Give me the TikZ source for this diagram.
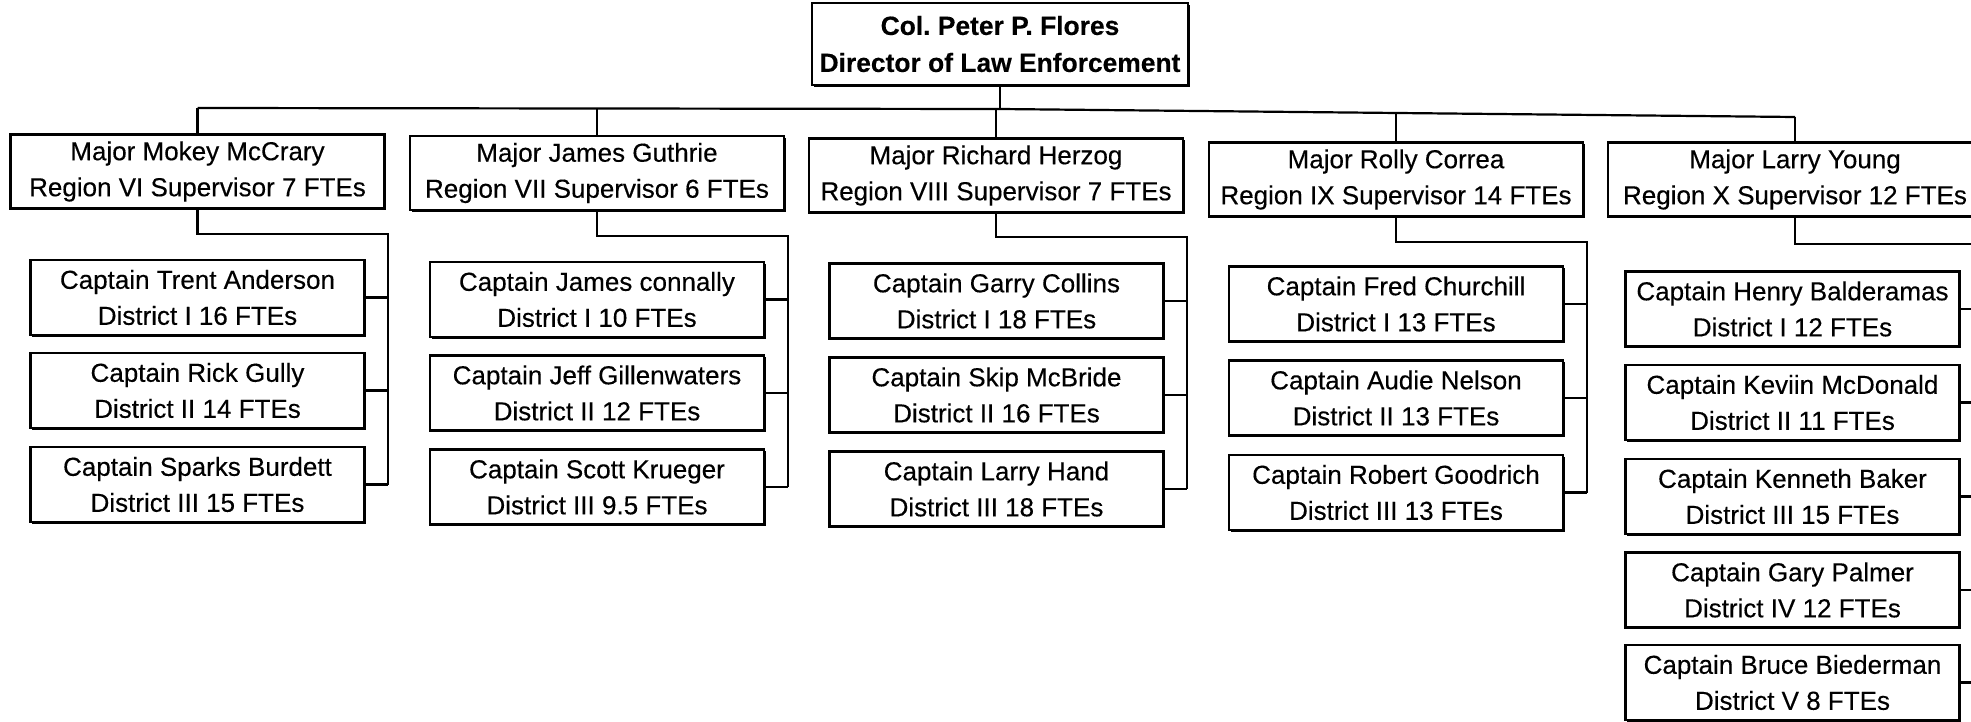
\documentclass[tikz,border=0pt]{standalone}
\usepackage{fontspec}
\setmainfont{Liberation Sans}[FakeBold=0.3]
\newfontfamily\regfont{Liberation Sans}[FakeBold=0.3,BoldFont={* Bold},BoldFeatures={FakeBold=0}]
\usetikzlibrary{shadows}
\tikzset{
  px/.style={x=0.5pt,y=-0.5pt},
  orgbox/.style={draw=black, line width=1.3pt, fill=white, rectangle, inner sep=0pt,
    align=center, font=\fontsize{13}{18}\selectfont,
    general shadow={shadow xshift=0.9pt, shadow yshift=-0.9pt, fill=black}},
  topbox/.style={orgbox, font=\bfseries\fontsize{13.2}{18.5}\selectfont,
    minimum width=188pt, minimum height=41pt},
  regbox/.style={orgbox, minimum width=187pt, minimum height=37pt},
  capbox/.style={orgbox, minimum width=167pt, minimum height=37.5pt},
  conn/.style={draw=black, line width=1.1pt}
}
\begin{document}
\frenchspacing
\begin{tikzpicture}[px]
\useasboundingbox (0,0) rectangle (1971,722);
\fill[white] (0,0) rectangle (1971,722);
\clip (0,0) rectangle (1971,722);

% top
\node[topbox] (top) at (1000,44) {Col. Peter P. Flores\\Director of Law Enforcement};

% regions
\node[regbox] (r1) at (197.5,171.5) {Major Mokey McCrary\\Region VI Supervisor 7 FTEs};
\node[regbox] (r2) at (597,173) {Major James Guthrie\\Region VII Supervisor 6 FTEs};
\node[regbox] (r3) at (996,175.5) {Major Richard Herzog\\Region VIII Supervisor 7 FTEs};
\node[regbox] (r4) at (1396,179.5) {Major Rolly Correa\\Region IX Supervisor 14 FTEs};
\node[regbox] (r5) at (1795,179.5) {Major Larry Young\\Region X Supervisor 12 FTEs};

% captains region VI
\node[capbox] (a1) at (197.5,297.5) {Captain Trent Anderson\\District I 16 FTEs};
\node[capbox] (a2) at (197.5,390.5) {Captain Rick Gully\\District II 14 FTEs};
\node[capbox] (a3) at (197.5,484.5) {Captain Sparks Burdett\\District III 15 FTEs};
% region VII
\node[capbox] (b1) at (597,299.5) {Captain James connally\\District I 10 FTEs};
\node[capbox] (b2) at (597,393) {Captain Jeff Gillenwaters\\District II 12 FTEs};
\node[capbox] (b3) at (597,487) {Captain Scott Krueger\\District III 9.5 FTEs};
% region VIII
\node[capbox] (c1) at (996.5,301) {Captain Garry Collins\\District I 18 FTEs};
\node[capbox] (c2) at (996.5,395) {Captain Skip McBride\\District II 16 FTEs};
\node[capbox] (c3) at (996.5,489) {Captain Larry Hand\\District III 18 FTEs};
% region IX
\node[capbox] (d1) at (1396,304) {Captain Fred Churchill\\District I 13 FTEs};
\node[capbox] (d2) at (1396,398) {Captain Audie Nelson\\District II 13 FTEs};
\node[capbox] (d3) at (1396,492.5) {Captain Robert Goodrich\\District III 13 FTEs};
% region X
\node[capbox] (e1) at (1792.5,309) {Captain Henry Balderamas\\District I 12 FTEs};
\node[capbox] (e2) at (1792.5,402.5) {Captain Keviin McDonald\\District II 11 FTEs};
\node[capbox] (e3) at (1792.5,496.5) {Captain Kenneth Baker\\District III 15 FTEs};
\node[capbox] (e4) at (1792.5,590) {Captain Gary Palmer\\District IV 12 FTEs};
\node[capbox] (e5) at (1792.5,682.5) {Captain Bruce Biederman\\District V 8 FTEs};

% bus
\coordinate (busL) at (197.5,108);
\coordinate (busM) at (1000,109);
\coordinate (busR) at (1795,117);
\draw[conn] (busL) -- (busM) -- (busR);
\draw[conn] (top.south) -- (busM);
\draw[conn] (busL) -- (r1.north);
\draw[conn] (r2.north) -- (r2.north |- 0,108.5);
\draw[conn] (r3.north) -- (r3.north |- 0,109);
\draw[conn] (r4.north) -- (r4.north |- 0,113);
\draw[conn] (busR) -- (r5.north);

% spines
\coordinate (s1) at (388,234);
\coordinate (s2) at (788,236);
\coordinate (s3) at (1187,237);
\coordinate (s4) at (1587,242);
\coordinate (s5) at (1982,244);

\draw[conn] (r1.south) |- (s1) -- (s1 |- a3.east);
\foreach \n in {a1,a2,a3} \draw[conn] (\n.east) -- (s1 |- \n.east);
\draw[conn] (r2.south) |- (s2) -- (s2 |- b3.east);
\foreach \n in {b1,b2,b3} \draw[conn] (\n.east) -- (s2 |- \n.east);
\draw[conn] (r3.south) |- (s3) -- (s3 |- c3.east);
\foreach \n in {c1,c2,c3} \draw[conn] (\n.east) -- (s3 |- \n.east);
\draw[conn] (r4.south) |- (s4) -- (s4 |- d3.east);
\foreach \n in {d1,d2,d3} \draw[conn] (\n.east) -- (s4 |- \n.east);
\draw[conn] (r5.south) |- (s5) -- (s5 |- e5.east);
\foreach \n in {e1,e2,e3,e4,e5} \draw[conn] (\n.east) -- (s5 |- \n.east);
\end{tikzpicture}
\end{document}
